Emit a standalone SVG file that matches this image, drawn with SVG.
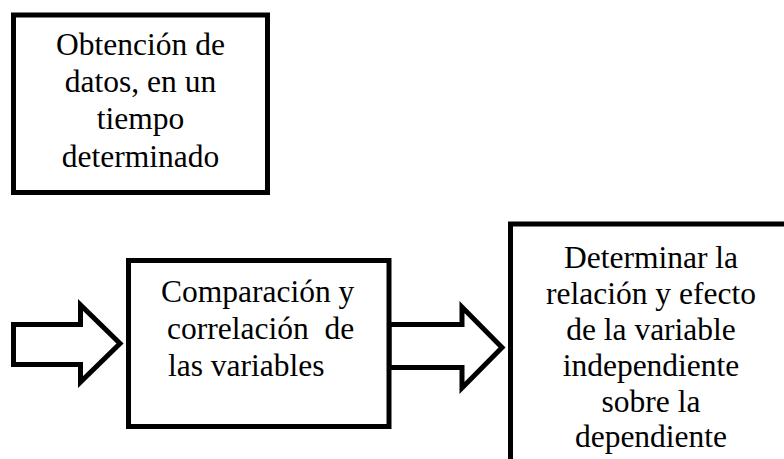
<svg xmlns="http://www.w3.org/2000/svg" width="784" height="459" viewBox="0 0 784 459">
<style>
.box{fill:#fff;stroke:#000;stroke-width:5}
.arrow{fill:#fff;stroke:#000;stroke-width:5;stroke-linejoin:miter}
text{font-family:"Liberation Serif","Times New Roman",serif;font-size:31.5px;fill:#000}
.c{text-anchor:middle}
</style>
<rect width="784" height="459" fill="#fff"/>
<g id="connectors">
<path class="arrow" d="M13.5,324.5 H80.5 V305 L120,343.5 L80.5,382 V364.5 H13.5 Z"/>
<path class="arrow" d="M389,324.5 H462 V307 L502,347.5 L462,388 V367.5 H389 Z"/>
</g>
<g id="node1">
<rect class="box" x="13.5" y="15" width="254" height="177.5"/>
<text class="c" x="140.5" y="55">Obtención de</text>
<text class="c" x="140.5" y="92">datos, en un</text>
<text class="c" x="140.5" y="129">tiempo</text>
<text class="c" x="140.5" y="166.5">determinado</text>
</g>
<g id="node2">
<rect class="box" x="128.5" y="260.5" width="260.5" height="166"/>
<text x="161" y="302">Comparación y</text>
<text x="167" y="339" xml:space="preserve">correlación  de</text>
<text x="168" y="376">las variables</text>
</g>
<g id="node3">
<rect class="box" x="510.5" y="224" width="290" height="260"/>
<text class="c" x="651" y="268">Determinar la</text>
<text class="c" x="651" y="304">relación y efecto</text>
<text class="c" x="651" y="340">de la variable</text>
<text class="c" x="651" y="376">independiente</text>
<text class="c" x="651" y="411.5">sobre la</text>
<text class="c" x="651" y="447">dependiente</text>
</g>
</svg>
